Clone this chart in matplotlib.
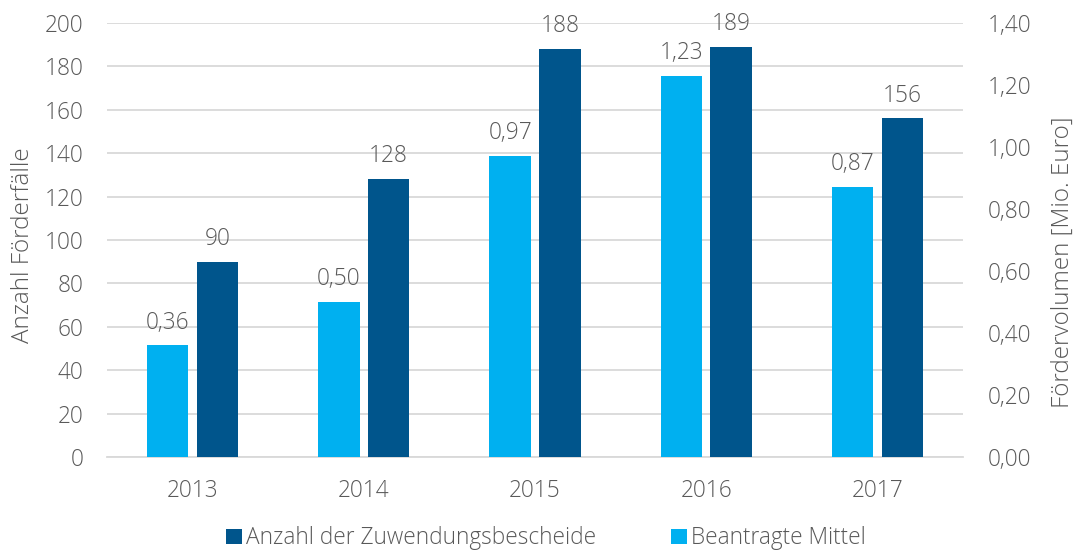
import matplotlib
matplotlib.use("Agg")
import matplotlib.pyplot as plt
import numpy as np
from matplotlib.ticker import FuncFormatter

years = ["2013", "2014", "2015", "2016", "2017"]
bescheide = [90, 128, 188, 189, 156]
mittel = [0.36, 0.50, 0.97, 1.23, 0.87]

dark = "#00558C"
light = "#00B0F0"
txt = "#595959"
grid = "#D9D9D9"

plt.rcParams['font.family'] = ['Open Sans', 'DejaVu Sans']
plt.rcParams['font.weight'] = 'light'
fs = 16.3
lfs = 17.5

fig = plt.figure(figsize=(10.81, 5.51), dpi=100)
ax = fig.add_axes([107/1081, 1-457/551, 856/1081, 434/551])
ax2 = ax.twinx()

x = np.arange(len(years))
w = 0.242
off = 0.145

b1 = ax.bar(x + off, bescheide, w, color=dark, zorder=3, label="Anzahl der Zuwendungsbescheide")
b2 = ax2.bar(x - off, mittel, w, color=light, zorder=3, label="Beantragte Mittel")

ax.set_xlim(-0.5, len(years) - 0.5)
ax.set_ylim(0, 200)
ax2.set_ylim(0, 1.4)
ax.set_yticks(np.arange(0, 201, 20))
ax2.set_yticks(np.arange(0, 1.41, 0.2))
ax2.yaxis.set_major_formatter(FuncFormatter(lambda v, p: f"{v:.2f}".replace(".", ",")))
ax.set_xticks(x)
ax.set_xticklabels(years)

ax.yaxis.grid(True, color=grid, linewidth=1.3, zorder=0)
ax.set_axisbelow(True)
for a in (ax, ax2):
    for s in a.spines.values():
        s.set_visible(False)
    a.tick_params(length=0, labelsize=fs, colors=txt)
ax.spines['bottom'].set_visible(True)
ax.spines['bottom'].set_color(grid)
ax.spines['bottom'].set_linewidth(1.3)
ax.tick_params(axis='x', pad=16)
ax.tick_params(axis='y', pad=17)
ax2.tick_params(axis='y', pad=18)

fig.text(23/1081, 1-245/551, "Anzahl Förderfälle", rotation=90, ha='center', va='center',
         fontsize=lfs, color=txt)
fig.text(1063/1081, 1-262/551, "Fördervolumen [Mio. Euro]", rotation=90, ha='center', va='center',
         fontsize=lfs, color=txt)

for xi, v in zip(x, bescheide):
    ax.text(xi + off, v + 5, f"{v}", ha='center', va='bottom', fontsize=fs, color=txt)
for xi, v in zip(x, mittel):
    ax2.text(xi - off, v + 0.035, f"{v:.2f}".replace(".", ","), ha='center', va='bottom', fontsize=fs, color=txt)

handles = [b1, b2]
fig.legend(handles, [h.get_label() for h in handles], loc='lower center',
           bbox_to_anchor=(0.505, -0.036), ncol=2, frameon=False, fontsize=fs,
           labelcolor=txt, handlelength=0.7, handleheight=0.7, handletextpad=0.2,
           columnspacing=3.3)

fig.savefig("out.png", dpi=100)
